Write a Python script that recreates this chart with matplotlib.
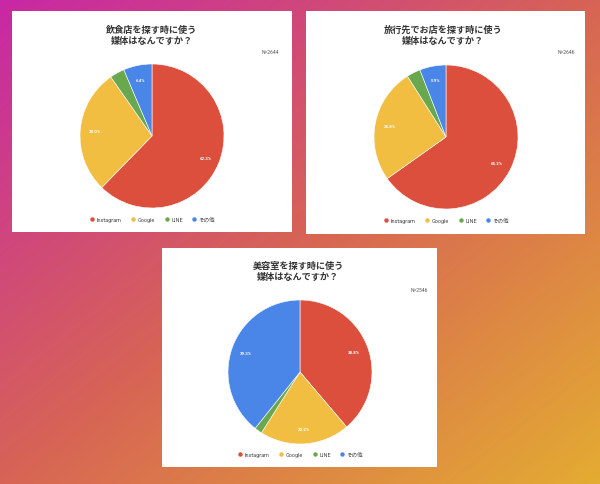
import numpy as np
import matplotlib
matplotlib.use('Agg')
import matplotlib.pyplot as plt
from matplotlib.patches import Rectangle
from matplotlib.lines import Line2D
from matplotlib.colors import LinearSegmentedColormap

plt.rcParams['font.family'] = ['Roboto', 'Noto Sans CJK JP', 'DejaVu Sans']

# ---- data ----
categories = ['Instagram', 'Google', 'LINE', 'その他']
titles = ['飲食店を探す時に使う\n媒体はなんですか？',
          '旅行先でお店を探す時に使う\n媒体はなんですか？',
          '美容室を探す時に使う\n媒体はなんですか？']
n_labels = ['N=2644', 'N=2646', 'N=2546']
values_restaurant = [62.3, 28.0, 3.3, 6.4]
values_travel = [65.2, 25.8, 3.1, 5.9]
values_salon = [38.8, 20.2, 1.7, 39.3]
all_values = [values_restaurant, values_travel, values_salon]

colors = ['#DC4F3C', '#F1BE42', '#6AA84F', '#4A86E8']

# ---- layout (pixels) ----
W, H = 600, 485
panels = [(12, 12, 280, 221), (306, 12, 279, 223), (162, 249, 275, 219)]
pie_centers = [(152, 137), (446, 138), (300, 373)]
radius = 72
title_pos = [(152, 36), (443, 36), (298, 272)]
n_pos = [(279, 53), (575, 53), (428, 290)]
legend_pos = [(153, 220), (447, 221), (301, 455)]

fig = plt.figure(figsize=(W / 100, H / 100), dpi=100)
bg = fig.add_axes([0, 0, 1, 1])
bg.set_axis_off()
yy, xx = np.mgrid[0:H, 0:W]
t = (xx / W + yy / H) / 2
cmap = LinearSegmentedColormap.from_list(
    'g', [(0, '#C828A5'), (0.5, '#D76455'), (1, '#E4AC32')])
bg.imshow(t, cmap=cmap, extent=[0, W, H, 0], aspect='auto', origin='upper')
bg.set_xlim(0, W)
bg.set_ylim(H, 0)

for (x0, y0, w, h) in panels:
    bg.add_patch(Rectangle((x0, y0), w, h, facecolor='white', edgecolor='none'))


def fx(x):
    return x / W


def fy(y):
    return 1 - y / H


for i, vals in enumerate(all_values):
    cx, cy = pie_centers[i]
    ax = fig.add_axes([(cx - radius) / W, 1 - (cy + radius) / H,
                       2 * radius / W, 2 * radius / H])
    wedges, texts, autotexts = ax.pie(
        vals, colors=colors, startangle=90, counterclock=False,
        autopct=lambda p: f'{p:.1f}%' if p > 5 else '',
        pctdistance=0.8, radius=1,
        wedgeprops=dict(linewidth=0.4, edgecolor='white'),
        textprops=dict(color='white', fontsize=3.2, fontweight='bold'))
    ax.set_xlim(-1, 1)
    ax.set_ylim(-1, 1)
    ax.set_aspect('equal')
    ax.set_axis_off()

    tx, ty = title_pos[i]
    fig.text(fx(tx), fy(ty), titles[i], ha='center', va='center',
             fontsize=6.6, fontweight='bold', color='#333333', linespacing=1.25)
    nx, ny = n_pos[i]
    fig.text(fx(nx), fy(ny), n_labels[i], ha='right', va='center',
             fontsize=3.6, color='#555555')

    handles = [Line2D([0], [0], marker='o', linestyle='none',
                      markerfacecolor=c, markeredgecolor='none', markersize=3.2)
               for c in colors]
    lx, ly = legend_pos[i]
    fig.legend(handles, categories, loc='center', bbox_to_anchor=(fx(lx), fy(ly)),
               ncol=4, frameon=False, fontsize=4, handlelength=0.6,
               handletextpad=0.5, columnspacing=1.8, borderaxespad=0,
               labelcolor='#444444')

fig.savefig('out.png', dpi=100)
